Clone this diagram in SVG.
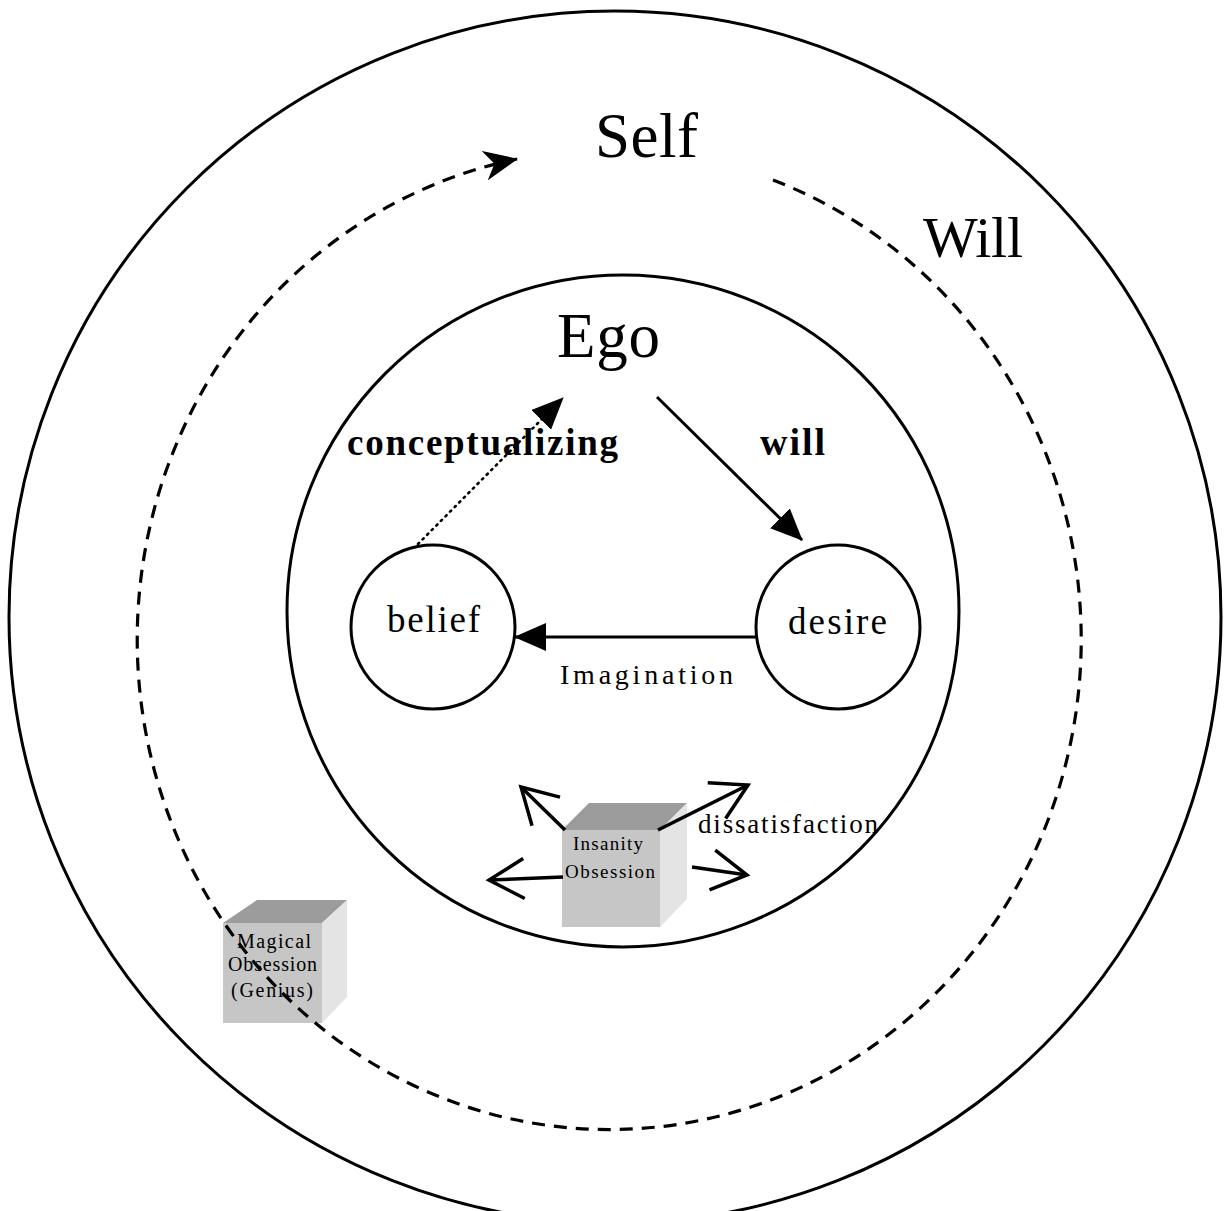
<svg xmlns="http://www.w3.org/2000/svg" width="1224" height="1211" viewBox="0 0 1224 1211">
<style>
.ring{fill:none;stroke:#000;stroke-width:3}
.t{font-family:"Liberation Serif","Times New Roman",serif;fill:#000}
.b{font-weight:bold}
.solid{fill:none;stroke:#000;stroke-width:3}
.dash{fill:none;stroke:#000;stroke-width:3.2;stroke-dasharray:13 9}
.dot{fill:none;stroke:#000;stroke-width:2.6;stroke-dasharray:1.5 5;stroke-linecap:round}
.open{fill:none;stroke:#000;stroke-width:3.5}
.top{fill:#9c9c9c}
.front{fill:#c6c6c6}
.side{fill:#e4e4e4}
</style>
<defs>
<marker id="tri" markerUnits="userSpaceOnUse" viewBox="0 0 32 28" refX="31" refY="14" markerWidth="32" markerHeight="28" orient="auto">
<path d="M0,0 L32,14 L0,28 z" fill="#000"/>
</marker>
<marker id="dart" markerUnits="userSpaceOnUse" viewBox="0 0 34 30" refX="33" refY="15" markerWidth="34" markerHeight="30" orient="auto">
<path d="M34,15 L0,0 L10,15 L0,30 z" fill="#000"/>
</marker>
<marker id="vee" markerUnits="userSpaceOnUse" viewBox="0 0 40 46" refX="37" refY="23" markerWidth="40" markerHeight="46" orient="auto" overflow="visible">
<path d="M2,3 L37,23 L2,43" fill="none" stroke="#000" stroke-width="3.5" stroke-linejoin="miter"/>
</marker>
</defs>
<rect width="1224" height="1211" fill="#fff"/>

<g id="self">
<circle class="ring" cx="615" cy="617" r="606"/>
<text class="t" x="595" y="157" font-size="63" textLength="103">Self</text>
</g>
<g id="will-label">
<text class="t" x="923" y="257" font-size="58" textLength="100">Will</text>
</g>
<g id="ego">
<circle class="ring" cx="623" cy="611" r="336"/>
<text class="t" x="557" y="357" font-size="63" textLength="103">Ego</text>
</g>
<g id="belief">
<circle class="ring" cx="433" cy="627" r="82"/>
<text class="t" x="387" y="632" font-size="37" textLength="93">belief</text>
</g>
<g id="desire">
<circle class="ring" cx="838" cy="627" r="82"/>
<text class="t" x="788" y="634" font-size="37" textLength="99">desire</text>
</g>
<g id="insanity">
<polygon class="top" points="562,830 589,803 687,803 660,830"/>
<polygon class="side" points="660,830 687,803 687,899 660,927"/>
<rect class="front" x="562" y="830" width="98" height="97"/>
<text class="t" x="573" y="850" font-size="19" textLength="70">Insanity</text>
<text class="t" x="565" y="878" font-size="19" textLength="90">Obsession</text>
</g>
<g id="magical">
<polygon class="top" points="223,923 257,900 347,900 322,923"/>
<polygon class="side" points="322,923 347,900 347,997 322,1023"/>
<rect class="front" x="223" y="923" width="99" height="100"/>
<text class="t" x="237" y="948" font-size="20" textLength="74">Magical</text>
<text class="t" x="228" y="971" font-size="20" textLength="89">Obsession</text>
<text class="t" x="231" y="997" font-size="20" textLength="82">(Genius)</text>
</g>

<g id="labels">
<text class="t b" x="347" y="455" font-size="37" textLength="271">conceptualizing</text>
<text class="t b" x="760" y="455" font-size="38" textLength="65">will</text>
<text class="t" x="560" y="684" font-size="28" textLength="173">Imagination</text>
<text class="t" x="698" y="833" font-size="27" textLength="180">dissatisfaction</text>
</g>

<g id="connectors">
<path class="dash" d="M773,180 A472,490 0 1 1 517,159" marker-end="url(#dart)"/>
<line class="solid" x1="657" y1="397" x2="802" y2="540" marker-end="url(#tri)"/>
<line class="solid" x1="756" y1="637" x2="515" y2="637" marker-end="url(#tri)"/>
<line class="dot" x1="418" y1="544" x2="545" y2="416"/>
<line x1="540" y1="421" x2="563" y2="398" stroke="none" marker-end="url(#tri)"/>
<line class="open" x1="565" y1="830" x2="521" y2="787" marker-end="url(#vee)"/>
<line class="open" x1="658" y1="830" x2="748" y2="785" marker-end="url(#vee)"/>
<line class="open" x1="563" y1="877" x2="489" y2="880" marker-end="url(#vee)"/>
<line class="open" x1="692" y1="867" x2="747" y2="875" marker-end="url(#vee)"/>
</g>
</svg>
